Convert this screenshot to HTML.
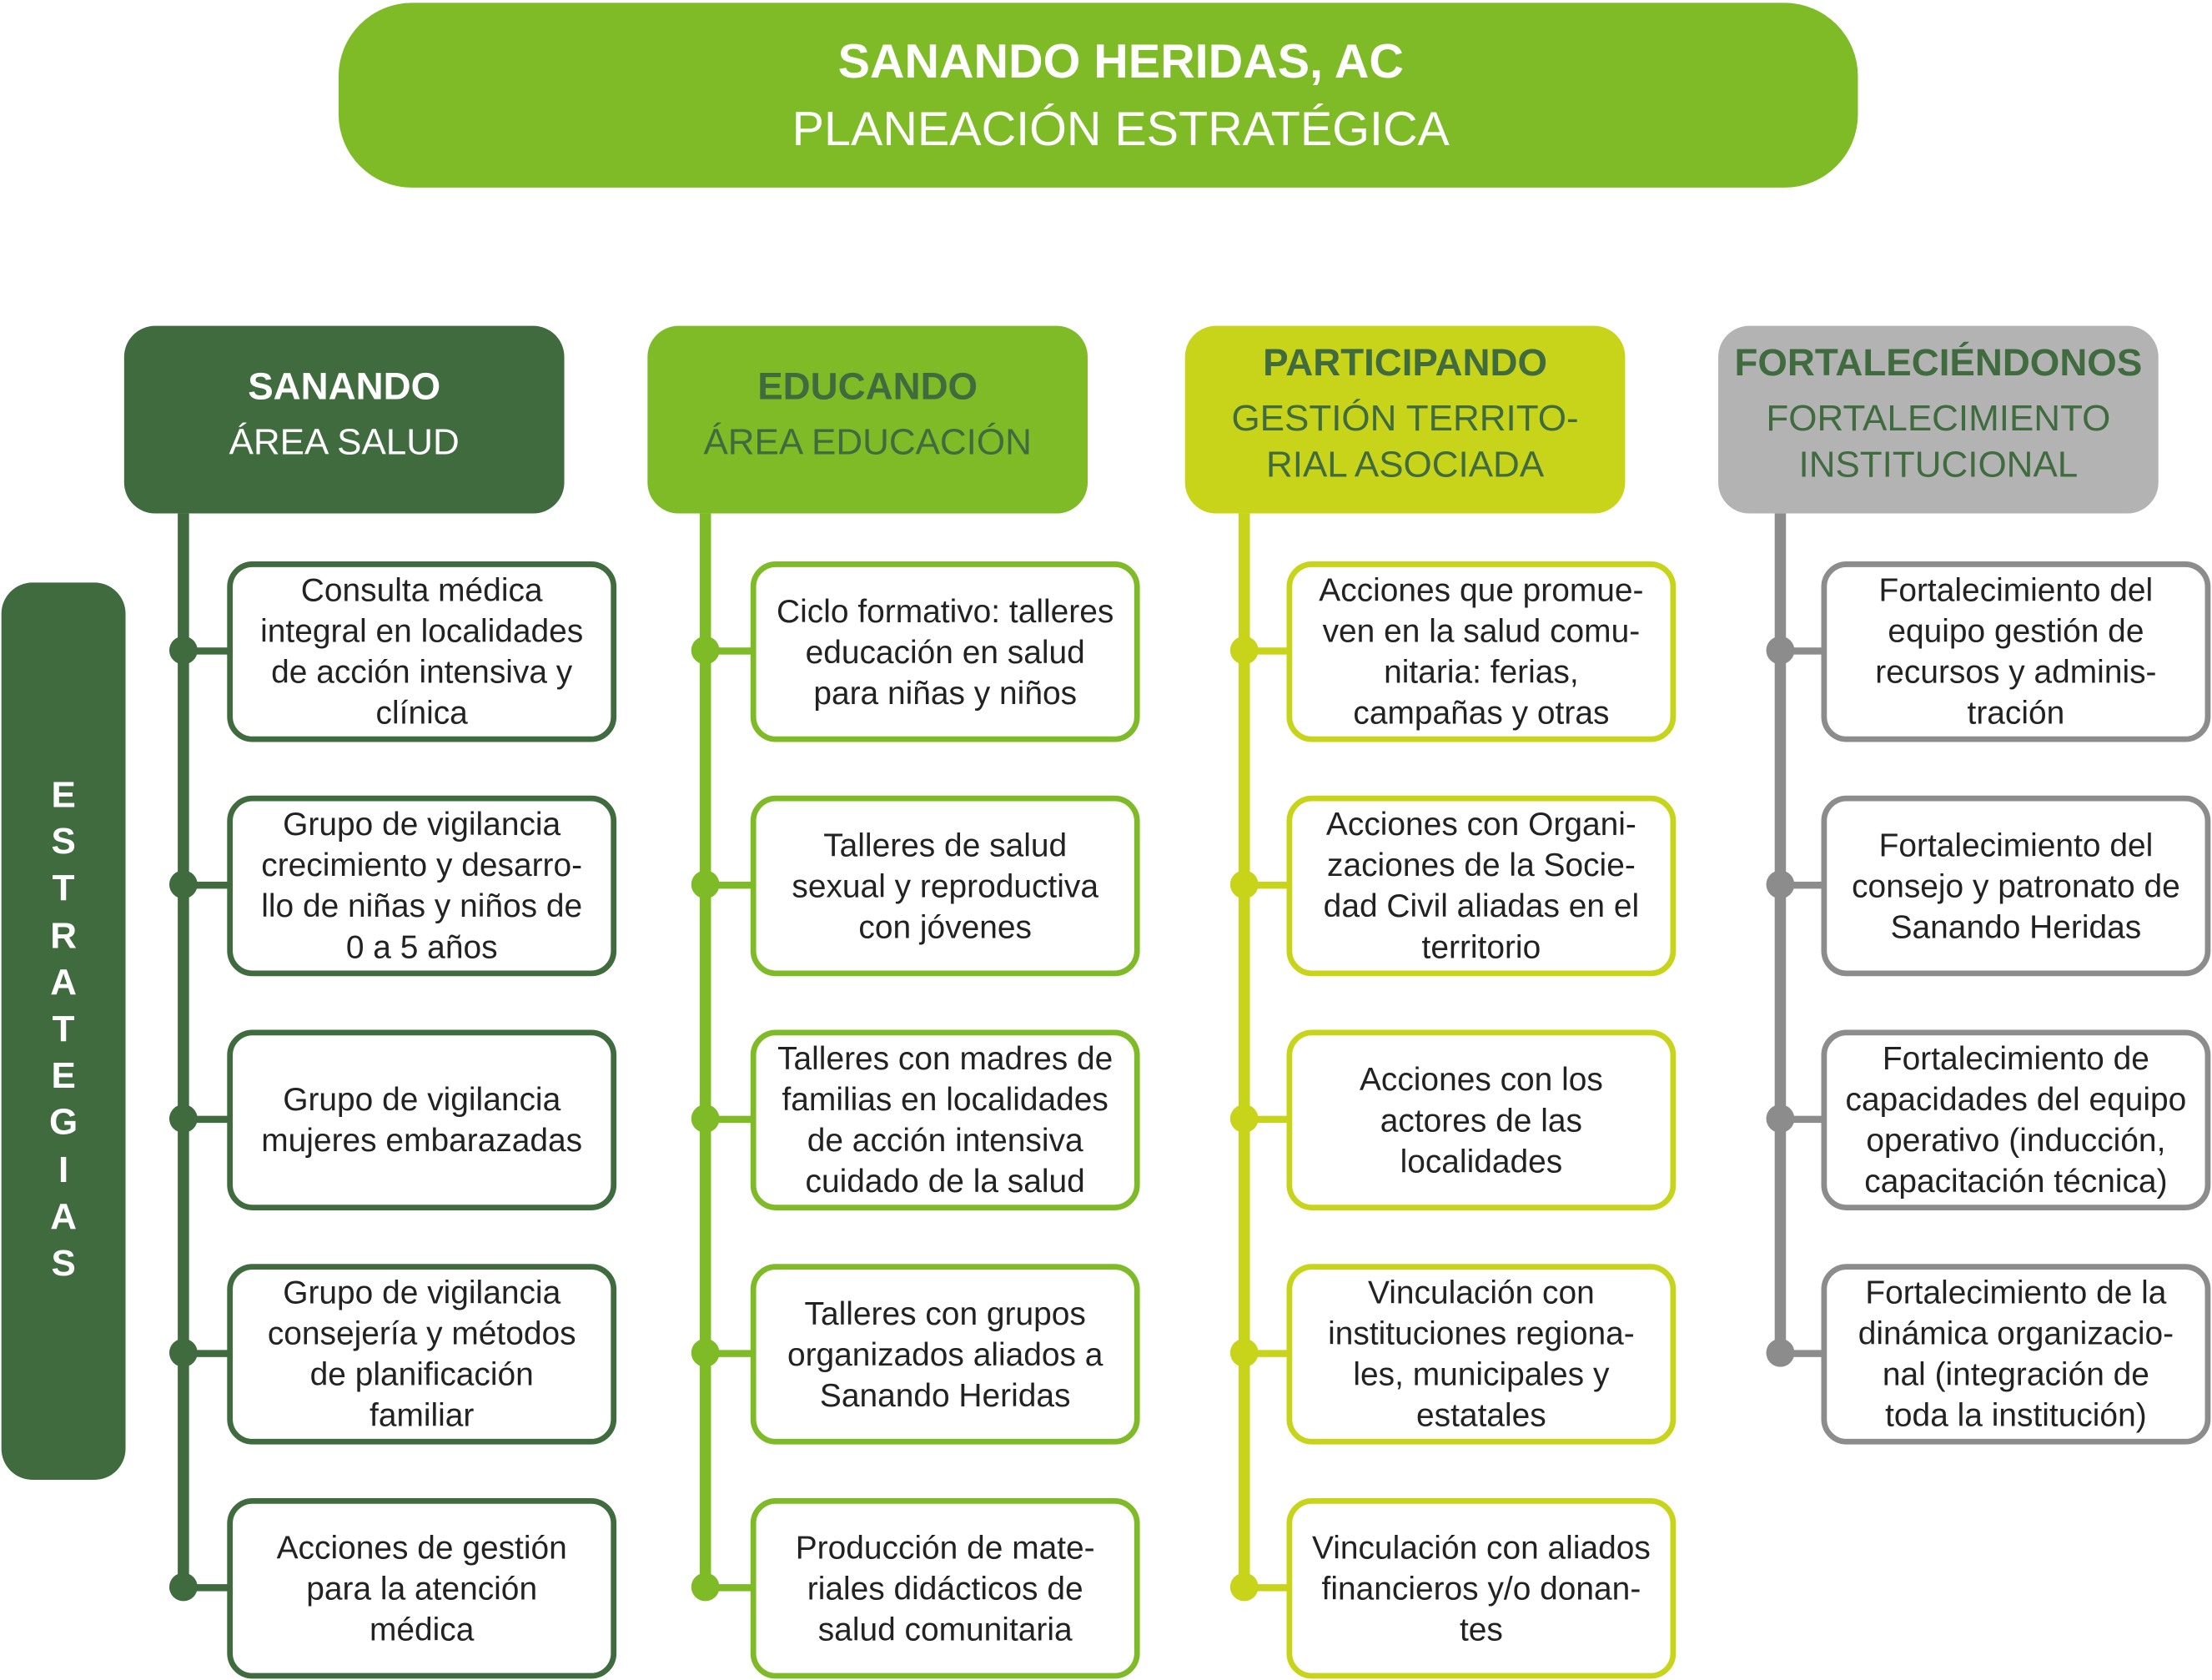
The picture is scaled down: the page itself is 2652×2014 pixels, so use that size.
<!DOCTYPE html>
<html><head><meta charset="utf-8"><style>
html,body{margin:0;padding:0;background:#fff;width:2652px;height:2014px;overflow:hidden}
#w{position:absolute;left:0;top:0;width:1568px;height:1191px;transform:scale(1.69133,1.6911);transform-origin:0 0;font-family:"Liberation Sans",sans-serif}
.a{position:absolute;box-sizing:border-box}
.title{left:240px;top:2px;width:1077px;height:131px;background:#7fba27;border-radius:52px;color:#fff;text-align:center;font-size:34px;line-height:48px;padding-top:18px;padding-left:32px}
.hd{top:231px;width:312px;height:133px;border-radius:22px;text-align:center;font-size:26px;line-height:33px;display:flex;flex-direction:column;justify-content:center;padding-bottom:8px}
.hd b{font-size:27px}
.box{width:276px;height:128px;border:4px solid;border-radius:18px;background:#fff;display:flex;align-items:center;justify-content:center;text-align:center;font-size:23px;line-height:29px;color:#222;padding:0 2px;white-space:nowrap}
.vl{width:8px;top:364px}
.hl{height:5px;width:32px}
.dot{width:20px;height:20px;border-radius:50%}
.side{left:1px;top:413px;width:88px;height:636px;background:#3f6b3f;border-radius:22px;color:#fff;font-weight:bold;font-size:26px;text-align:center;padding-top:134px;line-height:33.2px}
</style></head><body><div id="w">
<div class="a title"><b>SANANDO HERIDAS, AC</b><br>PLANEACIÓN ESTRATÉGICA</div>

<div class="a side">E<br>S<br>T<br>R<br>A<br>T<br>E<br>G<br>I<br>A<br>S</div>

<div class="a hd" style="left:88px;background:#3f6b3f;color:#fff"><b>SANANDO</b><span style="margin-top:6px">ÁREA SALUD</span></div>
<div class="a hd" style="left:459px;background:#7fba27;color:#3f6b3f"><b>EDUCANDO</b><span style="margin-top:6px">ÁREA EDUCACIÓN</span></div>
<div class="a hd" style="left:840px;background:#c8d419;color:#3f6b3f"><b>PARTICIPANDO</b><span style="margin-top:6px">GESTIÓN TERRITO-<br>RIAL ASOCIADA</span></div>
<div class="a hd" style="left:1218px;background:#b3b3b3;color:#3f6b3f"><b>FORTALECIÉNDONOS</b><span style="margin-top:6px">FORTALECIMIENTO<br>INSTITUCIONAL</span></div>

<div id="cols"></div>
</div>
<script>
var cols=[
 {x:130,bx:161,c:'#3f6b3f',end:1125,t:["Consulta médica<br>integral en localidades<br>de acción intensiva y<br>clínica","Grupo de vigilancia<br>crecimiento y desarro-<br>llo de niñas y niños de<br>0 a 5 años","Grupo de vigilancia<br>mujeres embarazadas","Grupo de vigilancia<br>consejería y métodos<br>de planificación<br>familiar","Acciones de gestión<br>para la atención<br>médica"]},
 {x:500,bx:532,c:'#7fba27',end:1125,t:["Ciclo formativo: talleres<br>educación en salud<br>para niñas y niños","Talleres de salud<br>sexual y reproductiva<br>con jóvenes","Talleres con madres de<br>familias en localidades<br>de acción intensiva<br>cuidado de la salud","Talleres con grupos<br>organizados aliados a<br>Sanando Heridas","Producción de mate-<br>riales didácticos de<br>salud comunitaria"]},
 {x:882,bx:912,c:'#c8d419',end:1125,t:["Acciones que promue-<br>ven en la salud comu-<br>nitaria: ferias,<br>campañas y otras","Acciones con Organi-<br>zaciones de la Socie-<br>dad Civil aliadas en el<br>territorio","Acciones con los<br>actores de las<br>localidades","Vinculación con<br>instituciones regiona-<br>les, municipales y<br>estatales","Vinculación con aliados<br>financieros y/o donan-<br>tes"]},
 {x:1262,bx:1291,c:'#8c8c8c',end:959,t:["Fortalecimiento del<br>equipo gestión de<br>recursos y adminis-<br>tración","Fortalecimiento del<br>consejo y patronato de<br>Sanando Heridas","Fortalecimiento de<br>capacidades del equipo<br>operativo (inducción,<br>capacitación técnica)","Fortalecimiento de la<br>dinámica organizacio-<br>nal (integración de<br>toda la institución)"]}
];
var h='';
cols.forEach(function(c){
 h+='<div class="a vl" style="left:'+(c.x-4)+'px;height:'+(c.end-364)+'px;background:'+c.c+'"></div>';
 c.t.forEach(function(s,i){
  var y=461+i*166;
  h+='<div class="a hl" style="left:'+c.x+'px;top:'+(y-2.5)+'px;width:'+(c.bx-c.x+2)+'px;background:'+c.c+'"></div>';
  h+='<div class="a dot" style="left:'+(c.x-10)+'px;top:'+(y-10)+'px;background:'+c.c+'"></div>';
  h+='<div class="a box" style="left:'+c.bx+'px;top:'+(y-63)+'px;border-color:'+c.c+'"><div>'+s+'</div></div>';
 });
});
document.getElementById('cols').innerHTML=h;
</script>
</body></html>
